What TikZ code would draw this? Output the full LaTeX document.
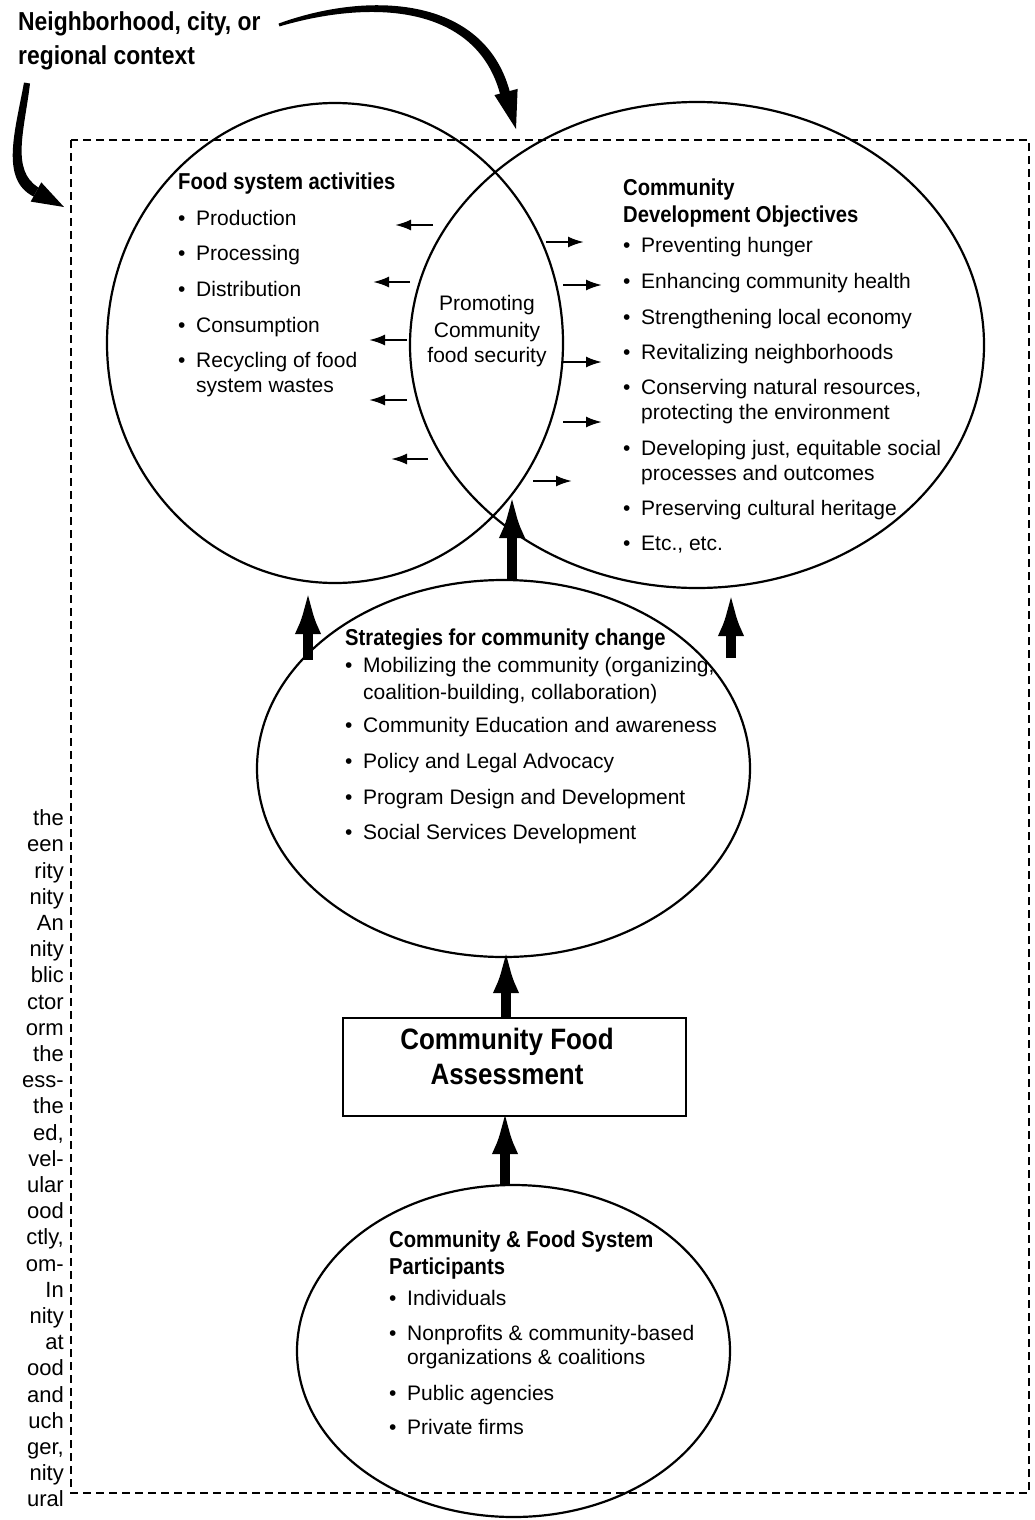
\documentclass[tikz,border=0pt]{standalone}
\usepackage{fontspec}
\setmainfont{Liberation Sans}
\newfontfamily\hdfont{Liberation Sans}[FakeStretch=0.88]
\usetikzlibrary{shapes.geometric,arrows.meta}
\newcommand\bpt{\makebox[18pt][l]{\textbullet}}
\begin{document}
\begin{tikzpicture}[x=1pt,y=-1pt,
  txt/.style={anchor=mid west,inner sep=0pt,font=\fontsize{21}{25}\selectfont},
  ctxt/.style={anchor=mid,inner sep=0pt,font=\fontsize{21}{25}\selectfont},
  hd/.style={anchor=mid west,inner sep=0pt,font=\hdfont\bfseries\fontsize{23}{27}\selectfont},
  lab/.style={anchor=mid west,inner sep=0pt,font=\hdfont\bfseries\fontsize{26}{30}\selectfont},
  big/.style={anchor=mid,inner sep=0pt,font=\hdfont\bfseries\fontsize{29.5}{34}\selectfont},
  frag/.style={anchor=mid east,inner sep=0pt,font=\fontsize{22}{26}\selectfont},
  ring/.style={draw,ellipse,line width=2.2pt,inner sep=0pt},
  frame/.style={draw,dash pattern=on 8pt off 5pt,line width=1.8pt},
  thinarrow/.style={line width=2.2pt,-{Latex[length=16pt,width=11pt]}},
  thickarrow/.style={line width=10pt,-{Latex[length=46pt,width=26pt]}},
]
\useasboundingbox (0,0) rectangle (1034,1520);
\fill[white] (0,0) rectangle (1034,1520);

% dashed frame
\draw[frame] (71,140) rectangle (1029,1493);

% ellipses
\node[ring,minimum width=456pt,minimum height=480pt] (fsa) at (335,343) {};
\node[ring,minimum width=574pt,minimum height=486pt] (cdo) at (697,345) {};
\node[ring,minimum width=493pt,minimum height=377pt] (strat) at (503.5,768.5) {};
\node[draw,line width=2pt,minimum width=343pt,minimum height=98pt,inner sep=0pt] (cfa) at (514.5,1067) {};
\node[ring,minimum width=433pt,minimum height=332pt] (cfsp) at (513.5,1351) {};

% curved context arrows
\fill (278.5,23.6) .. controls (369,-9.5) and (484,-4) .. (509.8,91.6)
  -- (500.2,94.4) .. controls (476,4) and (371,-0.5) .. (279.5,26.4) -- cycle;
\fill (516,129) -- (517.6,88.9) -- (494.4,95.1) -- cycle;
\fill (24,82.5) .. controls (15.5,130) and (-0.5,179.5) .. (33.5,196.5)
  -- (38.5,187.5) .. controls (10.5,170.5) and (24.5,130) .. (30,83.5) -- cycle;
\fill (64,207) -- (41.3,182.4) -- (30.7,201.6) -- cycle;

% thin arrows
\foreach \i/\xa/\xb/\yy in {1/433/395/225, 2/410/373/282, 3/407/369/340, 4/407/369/400, 5/428/391/459, 6/546/584/242, 7/563/602/285, 8/563/602/362, 9/563/602/422, 10/533/572/481} {
  \coordinate (s\i) at (\xa,\yy);
  \coordinate (e\i) at (\xb,\yy);
  \draw[thinarrow] (s\i) -- (e\i);
}

% thick arrows
\coordinate (m1s) at (512,580); \coordinate (m1e) at (512,492);
\coordinate (m2s) at (308,660); \coordinate (m2e) at (308,588);
\coordinate (m3s) at (731,658); \coordinate (m3e) at (731,590);
\coordinate (m4s) at (506,1018); \coordinate (m4e) at (506,947);
\coordinate (m5s) at (505,1185); \coordinate (m5e) at (505,1108);
\foreach \k in {1,...,5} {\draw[thickarrow] (m\k s) -- (m\k e);}

% context label
\node[lab] (ctx1) at (18,28) {Neighborhood, city, or};
\node[lab] (ctx2) at (18,62) {regional context};

% food system activities
\node[hd] (fsah) at (178,187) {Food system activities};
\node[txt] (fsa1) at (178,223) {\bpt Production};
\node[txt] (fsa2) at (178,258) {\bpt Processing};
\node[txt] (fsa3) at (178,294) {\bpt Distribution};
\node[txt] (fsa4) at (178,330) {\bpt Consumption};
\node[txt] (fsa5) at (178,365) {\bpt Recycling of food};
\node[txt] (fsa5b) at (196,390) {system wastes};

% lens
\node[ctxt] (pcf1) at (487,308) {Promoting};
\node[ctxt] (pcf2) at (487,335) {Community};
\node[ctxt] (pcf3) at (487,360) {food security};

% community development objectives
\node[hd] (cdoh1) at (623,193) {Community};
\node[hd] (cdoh2) at (623,220) {Development Objectives};
\node[txt] (cdo1) at (623,250) {\bpt Preventing hunger};
\node[txt] (cdo2) at (623,286) {\bpt Enhancing community health};
\node[txt] (cdo3) at (623,322) {\bpt Strengthening local economy};
\node[txt] (cdo4) at (623,357) {\bpt Revitalizing neighborhoods};
\node[txt] (cdo5) at (623,392) {\bpt Conserving natural resources,};
\node[txt] (cdo5b) at (641,417) {protecting the environment};
\node[txt] (cdo6) at (623,453) {\bpt Developing just, equitable social};
\node[txt] (cdo6b) at (641,478) {processes and outcomes};
\node[txt] (cdo7) at (623,513) {\bpt Preserving cultural heritage};
\node[txt] (cdo8) at (623,548) {\bpt Etc., etc.};

% strategies
\node[hd] (sth) at (345,643) {Strategies for community change};
\node[txt] (st1) at (345,670) {\bpt Mobilizing the community (organizing,};
\node[txt] (st1b) at (363,697) {coalition-building, collaboration)};
\node[txt] (st2) at (345,730) {\bpt Community Education and awareness};
\node[txt] (st3) at (345,766) {\bpt Policy and Legal Advocacy};
\node[txt] (st4) at (345,802) {\bpt Program Design and Development};
\node[txt] (st5) at (345,837) {\bpt Social Services Development};

% assessment box text
\node[big] (cfa1) at (507,1047) {Community Food};
\node[big] (cfa2) at (507,1082) {Assessment};

% participants
\node[hd] (ph1) at (389,1245) {Community \& Food System};
\node[hd] (ph2) at (389,1272) {Participants};
\node[txt] (p1) at (389,1303) {\bpt Individuals};
\node[txt] (p2) at (389,1338) {\bpt Nonprofits \& community-based};
\node[txt] (p2b) at (407,1362) {organizations \& coalitions};
\node[txt] (p3) at (389,1398) {\bpt Public agencies};
\node[txt] (p4) at (389,1432) {\bpt Private firms};

% clipped paragraph at the left edge
\foreach \w [count=\i] in {the,een,rity,nity,An,nity,blic,ctor,orm,the,ess-,the,{ed,},vel-,ular,ood,{ctly,},om-,In,nity,at,ood,and,uch,{ger,},nity,ural}
  \node[frag] (f\i) at (64,{823+26.2*(\i-1)}) {\w};
\end{tikzpicture}
\end{document}
